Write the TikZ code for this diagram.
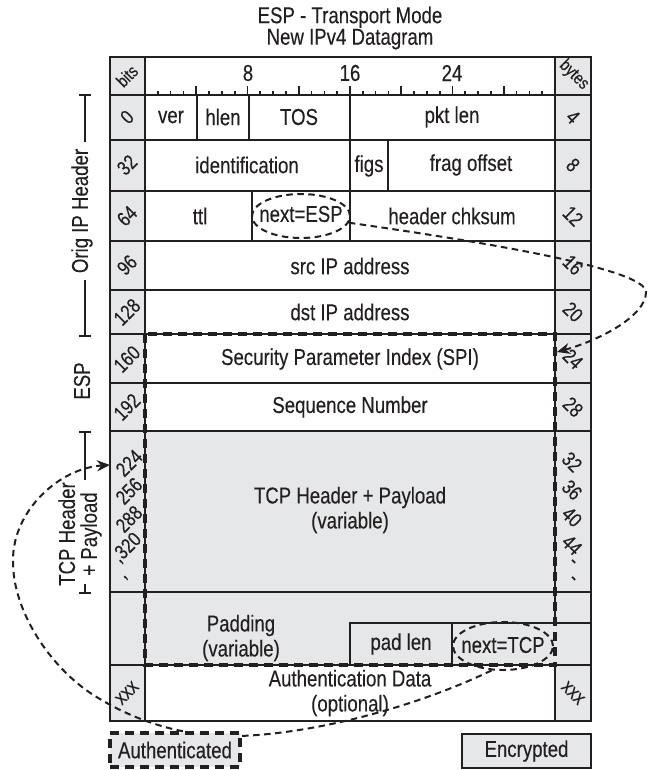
\documentclass[tikz,border=0pt]{standalone}
\usepackage{fontspec}
\setmainfont{Liberation Sans}[FakeStretch=0.81,FakeBold=0.25]
\usetikzlibrary{arrows.meta,shapes.geometric}
\definecolor{cellgray}{HTML}{E6E7E8}
\definecolor{ink}{HTML}{231F20}
\begin{document}
\begin{tikzpicture}[x=1pt,y=-1pt,
  every node/.style={text=ink, inner sep=0pt},
  lbl/.style={font=\fontsize{23}{25}\selectfont},
  num/.style={font=\fontsize{20.5}{22}\selectfont},
  lnum/.style={num, rotate=45},
  rnum/.style={num, rotate=-45},
  grid/.style={draw=ink, line width=2.6pt},
  tick/.style={draw=ink, line width=1.7pt},
  link/.style={draw=ink, line width=2pt, dash pattern=on 6.5pt off 4.5pt},
  authline/.style={draw=ink, line width=3.6pt, dash pattern=on 9pt off 6pt},
  oval/.style={ellipse, draw=ink, line width=2pt, dash pattern=on 6.5pt off 4.5pt},
  tip/.style={-{Stealth[length=13pt,width=11pt]}}
]
\useasboundingbox (0,0) rectangle (648,770);

% title
\node[lbl, align=center, font=\fontsize{23}{21.5}\selectfont] (title) at (350,28) {ESP - Transport Mode\\New IPv4 Datagram};

% fills
\fill[cellgray] (110,57) rectangle (145,721);
\fill[cellgray] (555,57) rectangle (591,721);
\fill[cellgray] (145,431) rectangle (555,665);

% grid
\draw[grid] (145,57) -- (145,721);
\draw[grid] (555,57) -- (555,623);
\draw[grid] (555,665) -- (555,721);
\foreach \yy in {95,140,191,241,290,334,383,431,592,665}
  \draw[grid] (110,\yy) -- (591,\yy);
\draw[grid] (197,95) -- (197,140);
\draw[grid] (249,95) -- (249,140);
\draw[grid] (350,95) -- (350,191);
\draw[grid] (388,140) -- (388,191);
\draw[grid] (252,191) -- (252,241);
\draw[grid] (350,191) -- (350,241);
\draw[grid] (350,665) -- (350,623) -- (591,623);
\draw[grid] (452,623) -- (452,665);
\draw[grid, line width=2.9pt] (110,57) rectangle (591,721);

% ruler ticks
\foreach \i in {1,...,31}{
  \pgfmathsetmacro\xx{145+12.8125*\i}
  \pgfmathsetmacro\len{ifthenelse(mod(\i,4)==0,9,4)}
  \draw[tick] (\xx,95) -- (\xx,95-\len);
}
\node[lbl] (r8) at (248,73) {8};
\node[lbl] (r16) at (350,73) {16};
\node[lbl] (r24) at (452,73) {24};
\node[num, font=\fontsize{17.5}{19}\selectfont, rotate=45] (bits) at (127,76) {bits};
\node[num, font=\fontsize{17.5}{19}\selectfont, rotate=-45] (bytes) at (574,75) {bytes};

% fields
\node[lbl] (ver) at (171,117) {ver};
\node[lbl] (hlen) at (223,117) {hlen};
\node[lbl] (tos) at (299,117) {TOS};
\node[lbl] (pktlen) at (452,117) {pkt len};
\node[lbl] (ident) at (247,165) {identification};
\node[lbl] (figs) at (369,166) {figs};
\node[lbl] (frag) at (471,165) {frag offset};
\node[lbl] (ttl) at (200,216) {ttl};
\node[lbl] (nesptxt) at (301,214) {next=ESP};
\node[lbl] (chk) at (452,216) {header chksum};
\node[lbl] (src) at (350,266) {src IP address};
\node[lbl] (dst) at (350,312) {dst IP address};
\node[lbl] (spi) at (350,359) {Security Parameter Index (SPI)};
\node[lbl] (seq) at (350,407) {Sequence Number};
\node[lbl, align=center] (payload) at (350,510) {TCP Header + Payload\\(variable)};
\node[lbl, align=center] (padding) at (241,638) {Padding\\(variable)};
\node[lbl] (padlen) at (401,644) {pad len};
\node[lbl] (ntcptxt) at (503,645) {next=TCP};
\node[lbl, align=center] (authdata) at (350,693) {Authentication Data\\(optional)};

% left bit numbers
\node[lnum] (b0) at (127,117) {0};
\node[lnum] (b32) at (127,165) {32};
\node[lnum] (b64) at (127,216) {64};
\node[lnum] (b96) at (127,265) {96};
\node[lnum] (b128) at (127,312) {128};
\node[lnum] (b160) at (127,359) {160};
\node[lnum] (b192) at (127,407) {192};
\node[lnum] (b224) at (129,463) {224};
\node[lnum] (b256) at (129,491) {256};
\node[lnum] (b288) at (129,519) {288};
\node[lnum] (b320) at (127,548) {,320};
\node[lnum] (bdots) at (126,578) {,};
\node[lnum] (bxxx) at (127,693) {xxx};

% right byte numbers
\node[rnum] (y4) at (573,117) {4};
\node[rnum] (y8) at (573,165) {8};
\node[rnum] (y12) at (573,216) {12};
\node[rnum] (y16) at (573,265) {16};
\node[rnum] (y20) at (573,312) {20};
\node[rnum] (y24) at (573,359) {24};
\node[rnum] (y28) at (573,407) {28};
\node[rnum] (y32) at (572,462) {32};
\node[rnum] (y36) at (572,490) {36};
\node[rnum] (y40) at (572,517) {40};
\node[rnum] (y44) at (572,545) {44};
\node[rnum] (yd1) at (572,563) {-};
\node[rnum] (yd2) at (572,580) {-};
\node[rnum] (yxxx) at (573,693) {xxx};

% side brackets
\draw[grid] (79,95) -- (91,95);
\draw[grid] (85,95) -- (85,142);
\draw[grid] (85,280) -- (85,336);
\draw[grid] (79,336) -- (91,336);
\node[lbl, rotate=90] (origlbl) at (82,211) {Orig IP Header};
\node[lbl, rotate=90] (esplbl) at (82,381) {ESP};
\draw[grid] (79,432) -- (91,432);
\draw[grid] (85,432) -- (85,480);
\draw[grid] (85,584) -- (85,593);
\draw[grid] (79,593) -- (91,593);
\node[lbl, rotate=90, align=center, font=\fontsize{23}{22}\selectfont] (tcplbl) at (80,534) {TCP Header\\+ Payload};

% authenticated region
\draw[authline] (145,334) rectangle (555,665);

% ovals
\node[oval, minimum width=98pt, minimum height=44pt] (nesp) at (301,216) {};
\node[oval, minimum width=100pt, minimum height=48pt] (ntcp) at (503,646) {};

% connectors
\coordinate (esparc) at (646,292);
\coordinate (spiin) at (557,352);
\draw[link, tip] (nesp.-8) .. controls (470,240) and (646,268) .. (esparc)
  .. controls (646,316) and (600,340) .. (spiin);

\coordinate (c1) at (240,736);
\coordinate (c2) at (95,696);
\coordinate (c3) at (13,560);
\coordinate (tcpin) at (110,465);
\draw[link, tip] (ntcp.-115) .. controls (420,705) and (320,733) .. (c1)
  .. controls (180,738) and (130,718) .. (c2)
  .. controls (50,668) and (12,610) .. (c3)
  .. controls (13,510) and (60,468) .. (tcpin);

% legend
\node[lbl, fill=cellgray, authline, minimum width=130pt, minimum height=34pt] (authbox) at (175,750) {Authenticated};
\node[lbl, fill=cellgray, grid, minimum width=129pt, minimum height=34pt] (encbox) at (526.5,751) {Encrypted};
\end{tikzpicture}
\end{document}
